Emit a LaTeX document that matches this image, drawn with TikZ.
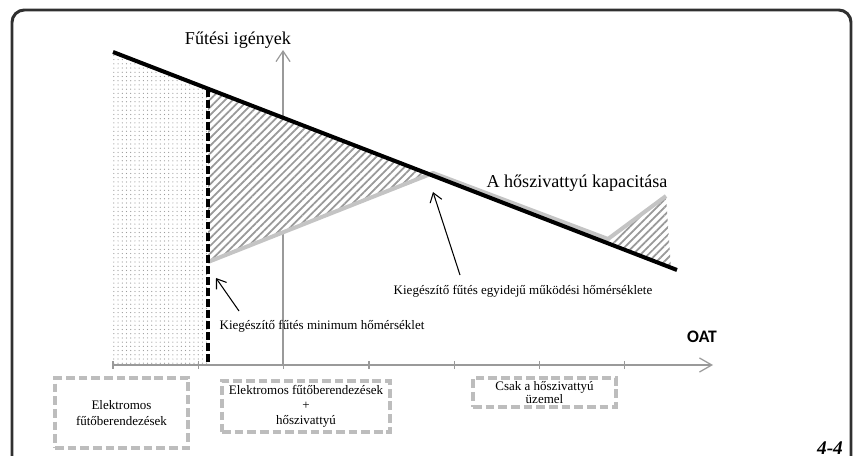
\documentclass[tikz,border=0pt]{standalone}
\usepackage{fontspec}
\usepackage{tikz}
\usetikzlibrary{arrows.meta,patterns.meta}
\setmainfont{Liberation Serif}
\newfontfamily\oatfont{Carlito}
\definecolor{axisgray}{HTML}{9A9A9A}
\definecolor{hpgray}{HTML}{C4C4C4}
\definecolor{boxgray}{HTML}{BDBDBD}
\definecolor{hatchgray}{HTML}{999999}
\definecolor{framegray}{HTML}{303030}

\begin{document}
\begin{tikzpicture}[x=0.02cm,y=-0.02cm,
    lbl/.style={font=\fontsize{10.3}{12}\selectfont,inner sep=0},
    note/.style={font=\fontsize{7.4}{8.5}\selectfont,inner sep=0},
    zone/.style={draw=boxgray,line width=1.9pt,dash pattern=on 5pt off 2.2pt,align=center,
      font=\fontsize{7.4}{8.5}\selectfont,inner sep=0},
    axis/.style={axisgray,line width=0.7pt},
    hatch/.style={preaction={fill=white},pattern={Lines[angle=45,distance=3.1pt,line width=1pt]},pattern color=hatchgray}]
        \clip (0,0) rectangle (853,456);
        \draw[line width=1.7pt,framegray,rounded corners=7pt] (12,480) -- (12,10) -- (851,10) -- (851,480);
        \coordinate (d0) at (113,52);
        \coordinate (d1) at (677,270);
        \coordinate (dmin) at (208,88.7);
        \coordinate (dmin0) at (208,364);
        \coordinate (hp0) at (208,262);
        \coordinate (bal) at (432,175.3);
        \coordinate (o) at (113,365);
        \coordinate (xend) at (713,365);
        \coordinate (ybot) at (283,365);
        \coordinate (ytop) at (283,50);
        % areas
        \fill[pattern={Dots[distance=2.4pt,radius=0.35pt]},pattern color=axisgray] (d0) -- (dmin) -- (dmin0) -- (113,364) -- cycle;
        \draw[axis,-{Straight Barb[length=6pt,width=8pt]}] (ybot) -- (ytop);
        \fill[hatch] (dmin) -- (bal) -- (hp0) -- cycle;
        \fill[hatch] (609,241) -- (666,197) -- (671,267.7) -- cycle;
        % lines
        \draw[hpgray,line width=2.3pt,line join=round] (hp0) -- (433,173) -- (608,239) -- (666,196);
        \draw[line width=2.3pt] (d0) -- (d1);
        \draw[line width=2pt,dash pattern=on 4.5pt off 1.8pt] (dmin) -- (dmin0);
        \draw[axis,-{Straight Barb[length=7pt,width=8pt]}] (o) -- (xend);
        \foreach \i in {0,...,6}
          \draw[axis] ({113+85.3*\i},361) -- ({113+85.3*\i},369);
        % labels
        \node[lbl] (demand) at (238,40) {Fűtési igények};
        \node[lbl] (cap) at (577,183) {A hőszivattyú kapacitása};
        \node[note] (minlbl) at (322,326) {Kiegészítő fűtés minimum hőmérséklet};
        \node[note] (ballbl) at (523,291) {Kiegészítő fűtés egyidejű működési hőmérséklete};
        \node[font=\oatfont\bfseries\fontsize{10}{12}\selectfont,inner sep=0] (oat) at (702,337) {OAT};
        \node[font=\bfseries\itshape\fontsize{11}{13}\selectfont,inner sep=0] (fig) at (830,448) {4-4};
        \coordinate (a1s) at (239,311);
        \coordinate (a1e) at (216,278);
        \coordinate (a2s) at (460,275);
        \coordinate (a2e) at (433,192);
        \draw[line width=0.6pt,-{Straight Barb[length=5pt,width=7pt]}] (a1s) -- (a1e);
        \draw[line width=0.6pt,-{Straight Barb[length=5pt,width=7pt]}] (a2s) -- (a2e);
        % zones
        \node[zone,minimum width=2.66cm,minimum height=1.4cm,font=\fontsize{7.4}{9.6}\selectfont] (elec) at (121.5,413) {Elektromos\\fűtőberendezések};
        \node[zone,minimum width=3.36cm,minimum height=1.02cm] (both) at (306,406.5) {Elektromos fűtőberendezések\\+\\hőszivattyú};
        \node[zone,minimum width=2.86cm,minimum height=0.58cm,font=\fontsize{7.4}{7.6}\selectfont] (hp) at (544.5,392.5) {Csak a hőszivattyú\\üzemel};
      \end{tikzpicture}
\end{document}
